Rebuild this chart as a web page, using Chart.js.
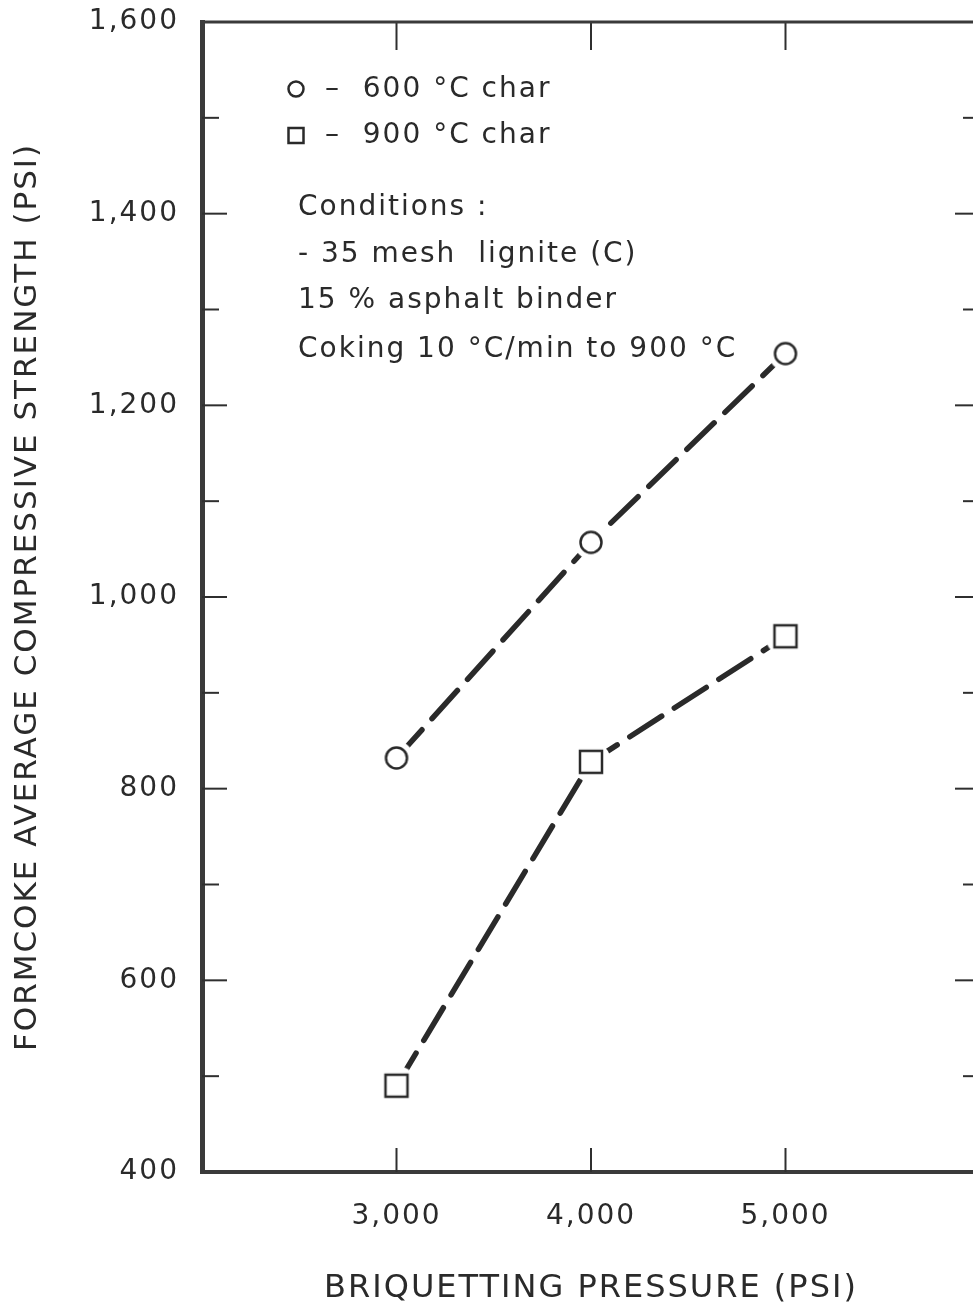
<!DOCTYPE html>
<html><head><meta charset="utf-8">
<script src="https://cdn.jsdelivr.net/npm/chart.js@4.4.1/dist/chart.umd.min.js"></script>
<style>html,body{margin:0;padding:0;background:#fff;overflow:hidden;} canvas{display:block;}</style>
</head><body>
<canvas id="c" width="985" height="1303"></canvas>
<script>
const pressure = [3000, 4000, 5000];
const char600 = [832, 1057, 1254];
const char900 = [490, 828, 959];
const xTickValues = [3000, 4000, 5000];
const yTickLabelStep = 200;
const seriesLabels = ['600 °C char', '900 °C char'];
const conditionLines = ['Conditions :', '- 35 mesh  lignite (C)', '15 % asphalt binder', 'Coking 10 °C/min to 900 °C'];
const xTitle = 'BRIQUETTING PRESSURE (PSI)';
const yTitle = 'FORMCOKE AVERAGE COMPRESSIVE STRENGTH (PSI)';

const INK = '#2a2a2a';
const FONT = "'DejaVu Sans', sans-serif";

function makeMarker(kind, halo) {
  const s = 48, c = document.createElement('canvas');
  c.width = s; c.height = s;
  const g = c.getContext('2d');
  g.fillStyle = '#fff';
  g.beginPath(); g.arc(s / 2, s / 2, halo, 0, Math.PI * 2); g.fill();
  g.strokeStyle = INK; g.lineWidth = 2.5;
  g.beginPath();
  if (kind === 'circle') g.arc(s / 2, s / 2, 10.5, 0, Math.PI * 2);
  else g.rect(s / 2 - 11, s / 2 - 11, 22, 22);
  g.stroke();
  return c;
}
const circleImg = makeMarker('circle', 17);
const squareImg = makeMarker('rect', 20);

function noPad(s) { s.paddingTop = 0; s.paddingBottom = 0; s.paddingLeft = 0; s.paddingRight = 0; }

const framePlugin = {
  id: 'frame',
  beforeLayout(chart) { chart.ctx.letterSpacing = '2px'; },
  beforeDraw(chart) {
    const ctx = chart.ctx;
    ctx.save(); ctx.fillStyle = '#fff'; ctx.fillRect(0, 0, chart.width, chart.height); ctx.restore();
    ctx.letterSpacing = '2px';
  },
  afterDraw(chart) {
    const {ctx, chartArea: a, scales: {x, y}} = chart;
    const line = (x1, y1, x2, y2) => { ctx.beginPath(); ctx.moveTo(x1, y1); ctx.lineTo(x2, y2); ctx.stroke(); };
    ctx.save();
    ctx.strokeStyle = '#2f2f2f'; ctx.lineWidth = 2;
    y.ticks.forEach(t => {
      if (t.value <= y.min || t.value >= y.max) return;
      const py = y.getPixelForValue(t.value);
      const len = t.value % yTickLabelStep === 0 ? 25 : 17;
      line(a.left, py, a.left + len, py);
      line(a.right - len, py, a.right, py);
    });
    x.ticks.forEach(t => {
      const px = x.getPixelForValue(t.value);
      line(px, a.top, px, a.top + 28);
      line(px, a.bottom - 24, px, a.bottom);
    });
    ctx.strokeStyle = '#3a3a3a';
    ctx.lineWidth = 3; line(a.left - 2, a.top, a.right, a.top);
    ctx.lineWidth = 4; line(a.right, a.top, a.right, a.bottom);

    // legend
    ctx.letterSpacing = '2px';
    ctx.font = "28px " + FONT;
    ctx.fillStyle = INK; ctx.textBaseline = 'alphabetic'; ctx.textAlign = 'left';
    ctx.strokeStyle = INK; ctx.lineWidth = 2.5;
    const ds = chart.data.datasets;
    ds.forEach((d, i) => {
      const cx = a.left + 94, cy = a.top + 67 + i * 46.5;
      ctx.beginPath();
      if (i === 0) ctx.arc(cx, cy, 7.5, 0, Math.PI * 2);
      else ctx.rect(cx - 7.5, cy - 7.5, 15, 15);
      ctx.stroke();
      ctx.fillText('–  ' + d.label, a.left + 123, a.top + 75 + i * 46);
    });
    const bases = [193, 240, 286, 335];
    conditionLines.forEach((t, i) => ctx.fillText(t, a.left + 96, a.top + bases[i]));
    ctx.restore();
  }
};

new Chart(document.getElementById('c'), {
  type: 'line',
  data: {
    datasets: [
      {
        label: seriesLabels[0],
        data: pressure.map((p, i) => ({x: p, y: char600[i]})),
        borderColor: INK, borderWidth: 5.5, borderDash: [38, 15], borderCapStyle: 'round',
        pointStyle: circleImg, pointRadius: 11, fill: false, tension: 0
      },
      {
        label: seriesLabels[1],
        data: pressure.map((p, i) => ({x: p, y: char900[i]})),
        borderColor: INK, borderWidth: 5.5, borderDash: [38, 15], borderCapStyle: 'round',
        pointStyle: squareImg, pointRadius: 15, fill: false, tension: 0
      }
    ]
  },
  options: {
    responsive: false,
    animation: false,
    devicePixelRatio: 1,
    layout: {autoPadding: false, padding: {top: 22, right: 5, left: 0, bottom: 0}},
    plugins: {legend: {display: false}, tooltip: {enabled: false}},
    scales: {
      x: {
        type: 'linear', min: 2000, max: 6000,
        afterBuildTicks: s => { s.ticks = xTickValues.map(v => ({value: v})); },
        afterFit: s => { s.height = 131; noPad(s); },
        grid: {drawOnChartArea: false, drawTicks: false},
        border: {display: true, color: '#3a3a3a', width: 4},
        ticks: {color: INK, font: {family: FONT, size: 28}, padding: 28, maxRotation: 0, autoSkip: false,
                callback: v => Number(v).toLocaleString('en-US')},
        title: {display: true, text: xTitle, color: INK, font: {family: FONT, size: 32, lineHeight: 0.9}, padding: {top: 0, bottom: 0}}
      },
      y: {
        type: 'linear', min: 400, max: 1600,
        afterFit: s => { s.width = 202; noPad(s); },
        grid: {drawOnChartArea: false, drawTicks: false},
        border: {display: true, color: '#3a3a3a', width: 5},
        ticks: {stepSize: 100, autoSkip: false, color: INK, font: {family: FONT, size: 28}, padding: 23,
                callback: v => (v % yTickLabelStep === 0 ? Number(v).toLocaleString('en-US') : '')},
        title: {display: true, text: yTitle, color: INK, font: {family: FONT, size: 31}, padding: {top: 9, bottom: 0}}
      }
    }
  },
  plugins: [framePlugin]
});
</script>
</body></html>
